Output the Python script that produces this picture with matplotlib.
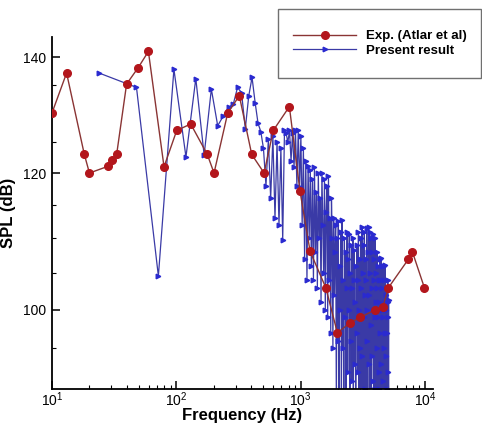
import matplotlib
matplotlib.use('Agg')
import matplotlib.pyplot as plt
import numpy as np
from matplotlib.ticker import FixedLocator, NullFormatter, FixedFormatter, LogLocator
from matplotlib.patches import Rectangle

plt.rcParams['font.family'] = ['Liberation Sans', 'DejaVu Sans']
plt.rcParams['mathtext.fontset'] = 'custom'
plt.rcParams['mathtext.rm'] = 'Liberation Sans'
plt.rcParams['mathtext.it'] = 'Liberation Sans:italic'
plt.rcParams['mathtext.bf'] = 'Liberation Sans:bold'

# experiment (Atlar et al)
exp_freq = [10, 13.1, 18.2, 20, 28.4, 30.2, 33.1, 39.8, 49.4, 59.6, 79.6, 100.7,
            130.5, 177.5, 201, 259, 321, 404, 508, 602, 811, 988, 1191, 1592,
            1973, 2500, 3006, 3970, 4574, 5078, 7363, 7930, 9885]
exp_spl = [130.0, 137.1, 123.0, 120.0, 121.1, 122.1, 123.0, 135.1, 138.1, 141.1,
           121.0, 127.0, 128.1, 123.0, 120.0, 130.0, 133.0, 123.0, 120.0, 127.0,
           131.1, 117.1, 108.1, 103.0, 97.0, 98.3, 99.0, 100.0, 100.4, 103.0,
           107.0, 108.0, 103.0]

# present result, one value per FFT bin
bin_width = 23.9
pres_spl = [
    137.1, 134.5, 104.6, 137.8, 122.6, 136.1, 122.9, 134.2, 127.8, 129.5,
    131.0, 131.5, 134.5, 133.5, 127.3, 133.0, 136.3, 131.8, 128.2, 126.8,
    124.0, 118.0, 125.5, 116.0, 126.0, 113.0, 125.0, 112.0, 124.0, 109.8,
    127.0, 126.5, 125.0, 127.0, 122.0, 126.5, 121.0, 127.0, 118.0, 127.0,
    117.8, 126.0, 112.0, 124.0, 107.0, 122.0, 104.0, 121.2, 110.0,
    120.5, 106.0, 119.0, 104.0, 121.0, 108.0, 117.0, 103.0, 120.0, 110.0,
    116.0, 101.0, 120.0, 112.0, 105.0, 119.0, 100.0, 114.0, 118.0, 99.0,
    119.6, 104.0, 113.0, 97.0, 116.0, 110.0, 95.0, 113.0, 102.0, 108.0,
    112.0, 88.0, 110.0, 96.0, 112.5, 86.0, 106.0, 100.0, 111.0, 89.0,
    112.7, 95.0, 104.0, 87.0, 110.0, 99.0, 108.0, 86.0, 103.0, 111.0,
    92.0, 107.0, 100.0, 110.7, 87.0, 105.0, 96.0, 109.0, 91.0, 103.0,
    110.0, 88.0, 104.0, 108.3, 93.0, 101.0, 86.0, 106.0, 97.0, 109.0,
    92.0, 104.0, 111.0, 87.0, 100.0, 107.0, 95.0, 110.0, 89.0, 103.0,
    111.7, 94.0, 105.0, 86.0, 109.0, 99.0, 111.0, 90.0, 102.0, 107.0,
    88.0, 104.0, 111.5, 96.0, 100.0, 87.0, 108.0, 111.7, 93.0, 102.0,
    111.0, 89.0, 105.0, 98.0, 110.0, 86.0, 103.0, 108.0, 94.0, 100.0,
    110.7, 91.0, 104.0, 87.0, 107.0, 99.0, 110.0, 90.0, 101.0, 105.0,
    88.0, 103.0, 108.0, 95.0, 99.0, 86.0, 106.0, 92.0, 101.0, 104.0,
    90.0, 107.0, 97.0, 86.0, 104.0, 107.2, 93.0, 100.0, 88.0, 103.0,
    106.0, 91.0, 99.0, 87.0, 104.0, 95.0, 106.0, 89.0, 101.0, 97.0,
    106.2, 88.0, 102.0, 94.0, 100.0, 86.0, 103.0, 97.0, 90.0, 101.0,
    104.0, 92.0, 99.0, 88.0, 101.3,
]
pres_freq = bin_width * np.arange(1, len(pres_spl) + 1)

y_major = [100, 120, 140]
y_minor = [95, 105, 110, 115, 125, 130, 135]

fig = plt.figure(figsize=(4.82, 4.23), dpi=100)
ax = fig.add_axes([0.1079, 0.0804, 0.7905, 0.8329])

ax.plot(pres_freq, pres_spl, color='#3a3aa6', lw=0.9, marker='>', ms=3.3,
        mfc='#2a2ad0', mec='#2a2ad0', label='Present result', zorder=2)
ax.plot(exp_freq, exp_spl, color='#8a3434', lw=1.0, marker='o', ms=5.5,
        mfc='#b3161c', mec='#b3161c', label='Exp. (Atlar et al)', zorder=3)

ax.set_xscale('log')
ax.set_yscale('log')
ax.set_xlim(10, 11600)
ax.set_ylim(90, 143.9)

ax.yaxis.set_major_locator(FixedLocator(y_major))
ax.yaxis.set_major_formatter(FixedFormatter([str(v) for v in y_major]))
ax.yaxis.set_minor_locator(FixedLocator(y_minor))
ax.yaxis.set_minor_formatter(NullFormatter())
ax.xaxis.set_minor_locator(LogLocator(base=10, subs=np.arange(2, 10)))
ax.xaxis.set_minor_formatter(NullFormatter())

for s in ['top', 'right']:
    ax.spines[s].set_visible(False)
for s in ['left', 'bottom']:
    ax.spines[s].set_linewidth(1.3)

ax.tick_params(which='major', direction='in', length=6, width=1.1, labelsize=10)
ax.tick_params(axis='x', which='major', pad=1)
ax.tick_params(axis='y', which='major', pad=4)
ax.tick_params(which='minor', direction='in', length=3, width=0.8)

ax.set_xlabel('Frequency (Hz)', fontsize=12, fontweight='bold')
ax.set_ylabel('SPL (dB)', fontsize=12, fontweight='bold')
ax.xaxis.set_label_coords(0.5, -0.054)
ax.yaxis.set_label_coords(-0.095, 0.5)

# legend box
fig.patches.append(Rectangle((278 / 482, 1 - 78 / 423), 203 / 482, 69 / 423,
                             transform=fig.transFigure, facecolor='white',
                             edgecolor='#707070', lw=1.0, zorder=5))
h, l = ax.get_legend_handles_labels()
leg = fig.legend(h[::-1], l[::-1], loc='upper left',
                 bbox_to_anchor=(293 / 482, 1 - 30 / 423), frameon=False,
                 borderpad=0, borderaxespad=0, handlelength=4.8,
                 handletextpad=0.7, labelspacing=0.2,
                 prop={'size': 9.5, 'weight': 'bold'})
leg.set_zorder(6)

fig.savefig('out.png', dpi=100)
